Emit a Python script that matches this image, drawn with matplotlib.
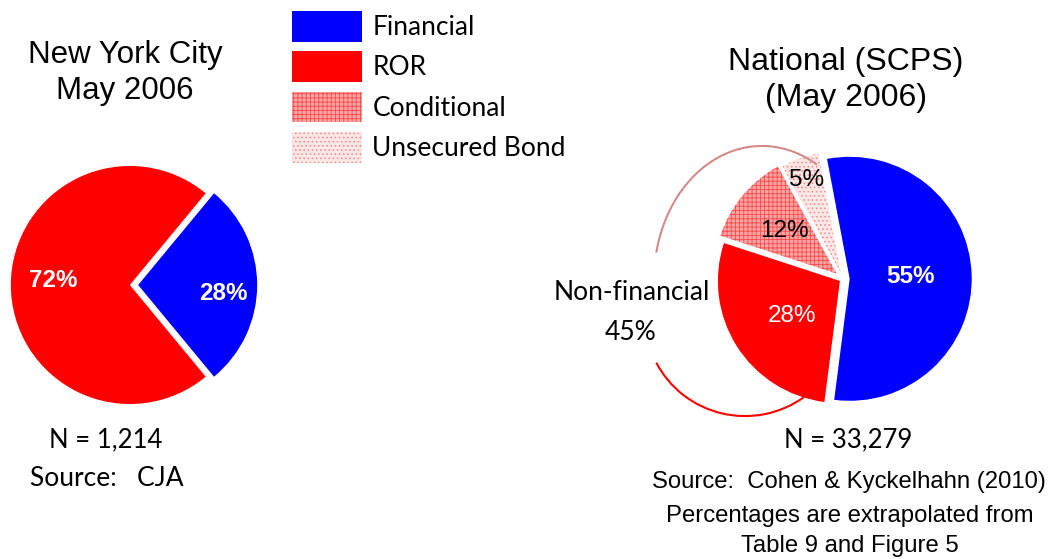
import matplotlib
matplotlib.use("Agg")
import matplotlib.pyplot as plt
from matplotlib.patches import Arc

# ---- data ----
categories = ["Financial", "ROR", "Conditional", "Unsecured Bond"]
nyc_values = [28, 72]                 # Financial, ROR
nyc_labels = ["28%", "72%"]
national_values = [55, 28, 12, 5]     # Financial, ROR, Conditional, Unsecured Bond
national_labels = ["55%", "28%", "12%", "5%"]
nonfin_label = "Non-financial"
nonfin_pct = "45%"

ARIAL = "Liberation Sans"
CALIBRI = "Lato"
plt.rcParams["hatch.linewidth"] = 0.6

W, H = 1056, 559
fig = plt.figure(figsize=(W / 100, H / 100), dpi=100)


def px_axes(cx, cy, r, lim=1.1):
    s = 2 * r * lim
    return fig.add_axes([(cx - s / 2) / W, 1 - (cy + s / 2) / H, s / W, s / H])


def fx(x):
    return x / W


def fy(y):
    return 1 - y / H


# ---- left pie: New York City ----
axL = px_axes(134, 285, 119)
wl, _ = axL.pie(nyc_values, colors=["#0000ff", "#ff0000"], startangle=50.4,
                counterclock=False, explode=[0.035, 0.035],
                wedgeprops=dict(linewidth=0))
axL.set_xlim(-1.1, 1.1)
axL.set_ylim(-1.1, 1.1)
axL.set_aspect("equal")
axL.text(0.75, -0.07, nyc_labels[0], color="white", fontsize=17.5, fontweight="bold",
         family=ARIAL, ha="center", va="center")
axL.text(-0.68, 0.04, nyc_labels[1], color="white", fontsize=17.5, fontweight="bold",
         family=ARIAL, ha="center", va="center")

# ---- right pie: National ----
R2 = 122
axR = px_axes(843, 279, R2)
colors = ["#0000ff", "#ff0000", "#ff0000", "#f4a0a0"]
wr, _ = axR.pie(national_values, colors=colors, startangle=100.7,
                counterclock=False, explode=[0.055, 0.03, 0.07, 0.05],
                wedgeprops=dict(linewidth=0))
axR.set_xlim(-1.1, 1.1)
axR.set_ylim(-1.1, 1.1)
axR.set_aspect("equal")
wr[2].set_facecolor("#f8a4a4")
wr[2].set_edgecolor("#ff4a4a")
wr[2].set_hatch("++++")
wr[3].set_facecolor("#fde6e6")
wr[3].set_edgecolor("#f28a8a")
wr[3].set_hatch("....")
for w in wr:
    w.set_linewidth(0)

axR.text(0.55, 0.02, national_labels[0], color="white", fontsize=17.5, fontweight="bold",
         family=ARIAL, ha="center", va="center")
axR.text(-0.42, -0.30, national_labels[1], color="white", fontsize=17.5,
         family=ARIAL, ha="center", va="center")
axR.text(-0.48, 0.39, national_labels[2], color="black", fontsize=17.5,
         family=ARIAL, ha="center", va="center")
axR.text(-0.30, 0.81, national_labels[3], color="black", fontsize=17.5,
         family=ARIAL, ha="center", va="center")

# bracket arcs around the non-financial slices
axR.add_patch(Arc((-0.664, -0.008), 1.770, 2.197, theta1=64.5, theta2=165.5,
                  color="#d48a8a", linewidth=1.5, clip_on=False))
axR.add_patch(Arc((-0.803, -0.320), 1.633, 1.607, theta1=206.7, theta2=306.5,
                  color="#ff0000", linewidth=1.5, clip_on=False))

# ---- legend ----
fig.legend(wr, categories, loc="upper left", bbox_to_anchor=(fx(292), fy(11)),
           frameon=False, prop=dict(family=CALIBRI, size=19),
           handlelength=2.65, handleheight=1.42, handletextpad=0.4,
           labelspacing=0.36, borderpad=0, borderaxespad=0)

# ---- texts ----
fig.text(fx(125), fy(73), "New York City\nMay 2006", ha="center", va="center",
         fontsize=22.5, family=ARIAL, linespacing=1.22)
fig.text(fx(846), fy(80), "National (SCPS)\n(May 2006)", ha="center", va="center",
         fontsize=23, family=ARIAL, linespacing=1.3)

fig.text(fx(106), fy(440), "N = 1,214", ha="center", va="center", fontsize=18.5, family=CALIBRI)
fig.text(fx(30), fy(478), "Source:   CJA", ha="left", va="center", fontsize=19, family=CALIBRI)

fig.text(fx(632), fy(293), nonfin_label, ha="center", va="center", fontsize=19, family=CALIBRI)
fig.text(fx(631), fy(333), nonfin_pct, ha="center", va="center", fontsize=19, family=CALIBRI)

fig.text(fx(848), fy(440), "N = 33,279", ha="center", va="center", fontsize=18.5, family=CALIBRI)
fig.text(fx(849), fy(482), "Source:  Cohen & Kyckelhahn (2010)", ha="center", va="center",
         fontsize=17.2, family=ARIAL)
fig.text(fx(850), fy(516), "Percentages are extrapolated from", ha="center", va="center",
         fontsize=17.2, family=ARIAL)
fig.text(fx(850), fy(546), "Table 9 and Figure 5", ha="center", va="center",
         fontsize=17.2, family=ARIAL)

fig.savefig("out.png", dpi=100)
